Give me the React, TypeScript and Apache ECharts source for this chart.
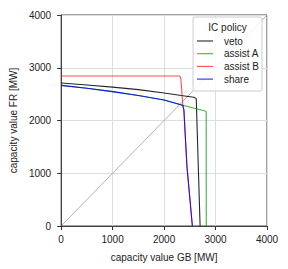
import React, { useEffect, useRef } from "react";
import * as echarts from "echarts";

const axisTicks = [0, 1000, 2000, 3000, 4000];
const seriesNames = ["veto", "assist A", "assist B", "share"];
const seriesColors = ["rgba(0,0,0,0.85)", "rgba(0,150,0,0.75)", "rgba(255,0,0,0.7)", "rgba(0,0,255,0.85)"];

const vetoX = [0, 500, 1000, 1500, 2000, 2400, 2580, 2625, 2700];
const vetoY = [2710, 2672, 2632, 2585, 2520, 2465, 2440, 2415, 0];

const assistAX = [0, 500, 1000, 1500, 2000, 2360, 2800, 2818, 2820];
const assistAY = [2665, 2610, 2548, 2475, 2390, 2290, 2180, 2160, 0];

const assistBX = [0, 2300, 2325, 2365, 2385, 2445, 2550];
const assistBY = [2845, 2845, 2800, 2290, 2200, 1124, 0];

const shareX = [0, 500, 1000, 1500, 2000, 2360, 2385, 2445, 2550];
const shareY = [2665, 2610, 2548, 2475, 2390, 2290, 2200, 1124, 0];

const diagX = [0, 4000];
const diagY = [0, 4000];

const zip = (xs: number[], ys: number[]) => xs.map((x, i) => [x, ys[i]]);

export default function App() {
  const ref = useRef<HTMLDivElement>(null);
  useEffect(() => {
    if (!ref.current) return;
    const chart = echarts.init(ref.current, undefined, { renderer: "svg" });
    const font = "Liberation Sans";
    const seriesData = [zip(vetoX, vetoY), zip(assistAX, assistAY), zip(assistBX, assistBY), zip(shareX, shareY)];
    const axisCommon = {
      type: "value", min: axisTicks[0], max: axisTicks[axisTicks.length - 1], interval: axisTicks[1] - axisTicks[0],
      nameLocation: "middle",
      nameTextStyle: { fontSize: 10, color: "#222", fontFamily: font },
      axisLine: { show: true, lineStyle: { color: "#444" } },
      axisTick: { show: true, length: 4, lineStyle: { color: "#333" } },
      splitLine: { show: true, lineStyle: { color: "#ddd", width: 1 } },
    };
    chart.setOption({
      animation: false,
      backgroundColor: "#fff",
      textStyle: { fontFamily: font },
      grid: { left: 56, top: 15, width: 211, height: 211, show: true, borderColor: "#444", borderWidth: 1, backgroundColor: "transparent" },
      xAxis: {
        ...axisCommon,
        name: "capacity value GB [MW]", nameGap: 26,
        axisLabel: { fontSize: 10, color: "#222", margin: 8, fontFamily: font, formatter: (v: number) => String(v) },
      },
      yAxis: {
        ...axisCommon,
        name: "capacity value FR [MW]", nameGap: 42,
        axisLabel: { fontSize: 10, color: "#222", margin: 10, fontFamily: font, formatter: (v: number) => String(v) },
      },
      legend: {
        orient: "vertical", left: 197, top: 36, z: 20, padding: 0,
        itemWidth: 16, itemHeight: 11, itemGap: 2.7,
        icon: "path://M0,0 L16,0 L16,1.1 L0,1.1 Z",
        data: seriesNames,
        textStyle: { fontSize: 10, color: "#222", fontFamily: font, padding: [0, 0, 0, 6] },
      },
      graphic: [
        { type: "rect", z: 15, shape: { x: 193, y: 17, width: 69, height: 74, r: 2 }, style: { fill: "rgba(255,255,255,0.85)", stroke: "#ccc", lineWidth: 1 } },
        { type: "text", z: 16, style: { x: 227.5, y: 27.5, text: "IC policy", textAlign: "center", textVerticalAlign: "middle", fontSize: 10, fill: "#222", fontFamily: font } },
      ],
      series: [
        { type: "line", name: "diag", data: zip(diagX, diagY), showSymbol: false, symbol: "none", silent: true, lineStyle: { color: "#666", width: 0.5 }, z: 1 },
        ...seriesNames.map((n, i) => ({
          type: "line", name: n, data: seriesData[i], showSymbol: false, symbol: "none",
          color: seriesColors[i], lineStyle: { color: seriesColors[i], width: 1.1 }, z: 2 + i,
        })),
      ],
    });
    return () => chart.dispose();
  }, []);
  return <div ref={ref} style={{ position: "fixed", left: 0, top: 0, width: 288, height: 269 }} />;
}
